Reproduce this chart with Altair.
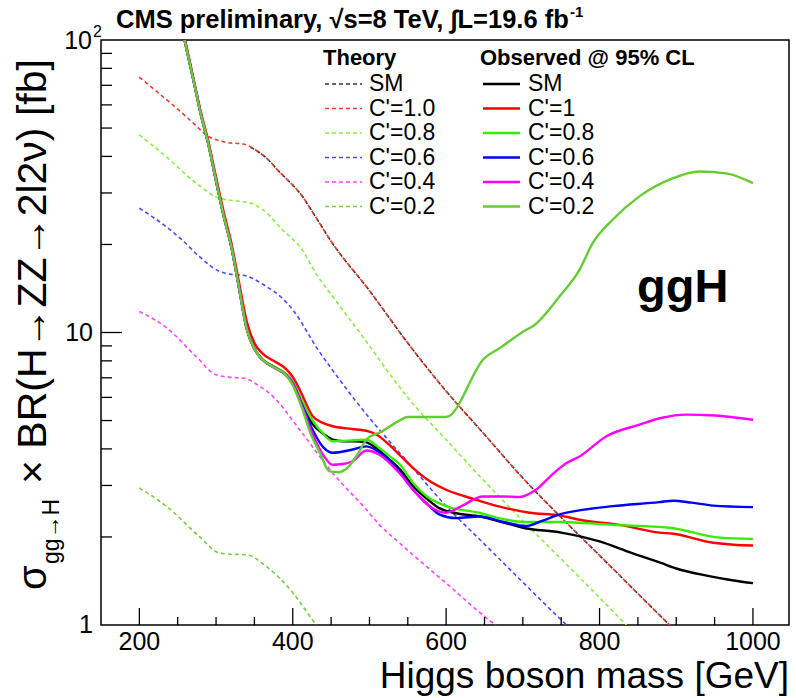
import altair as alt
import pandas as pd

FONT = "Liberation Sans"
LEFT, TOP = 101, 40
W, H = 688, 585

# ---------------- Theory curves (dashed) ----------------
th_sm_mass = [345, 355, 370, 380, 395, 410, 430, 450, 500, 550, 600, 650, 700, 750, 800, 850, 900]
th_sm_xs = [43.0, 41.5, 38.5, 36.0, 32.9, 29.8, 24.8, 20.5, 13.9, 9.2, 6.3, 4.48, 3.18, 2.33, 1.73, 1.28, 0.95]

th_c10_mass = [200, 225, 250, 270, 290, 305, 315, 335, 355, 370, 380, 395, 410, 430, 450, 500, 550, 600, 650, 700, 750, 800, 850, 900]
th_c10_xs = [74.6, 65.9, 58.0, 52.1, 46.8, 45.2, 44.6, 44.1, 41.5, 38.5, 36.0, 32.9, 29.8, 24.8, 20.5, 13.9, 9.2, 6.3, 4.48, 3.18, 2.33, 1.73, 1.28, 0.95]

th_c08_mass = [200, 235, 274, 304, 335, 345, 361, 387, 396, 409, 433, 450, 500, 530, 552, 600, 650, 700, 750, 800, 850]
th_c08_xs = [47.4, 39.9, 32.4, 28.8, 28.0, 27.7, 26.3, 22.4, 21.3, 19.7, 15.5, 13.5, 9.0, 7.0, 5.9, 4.3, 3.1, 2.27, 1.68, 1.24, 0.91]

th_c06_mass = [200, 235, 255, 278, 304, 320, 335, 365, 385, 400, 433, 461, 500, 513, 550, 600, 650, 700, 750, 800]
th_c06_xs = [26.6, 23.0, 20.8, 18.2, 16.2, 15.8, 15.7, 14.4, 13.2, 11.96, 8.73, 6.9, 5.1, 4.65, 3.6, 2.55, 1.89, 1.40, 1.04, 0.78]

th_c04_mass = [200, 235, 274, 300, 320, 335, 355, 374, 409, 452, 496, 513, 539, 550, 600, 650, 700]
th_c04_xs = [11.8, 10.4, 8.28, 7.17, 7.02, 6.99, 6.6, 6.05, 4.65, 3.31, 2.48, 2.2, 1.91, 1.8, 1.39, 1.07, 0.85]

th_c02_mass = [200, 235, 278, 304, 320, 339, 365, 400, 428, 450]
th_c02_xs = [2.94, 2.55, 2.01, 1.765, 1.745, 1.74, 1.59, 1.29, 1.02, 0.85]

# ---------------- Observed limits (solid) ----------------
obs_sm_mass = [250, 260, 270, 280, 290, 300, 310, 320, 330, 340, 350, 360, 375, 390, 400, 410, 425, 440, 452, 465, 480, 495, 510, 525, 540, 557, 575, 591, 610, 645, 675, 700, 750, 800, 835, 880, 900, 943, 975, 1000]
obs_sm_xs = [128, 97, 74, 56, 44, 33, 25, 19.6, 14.2, 10.3, 8.8, 8.1, 7.65, 7.25, 6.8, 5.9, 4.9, 4.5, 4.3, 4.25, 4.25, 4.22, 4.0, 3.7, 3.4, 2.98, 2.7, 2.51, 2.42, 2.35, 2.24, 2.15, 2.07, 1.93, 1.79, 1.63, 1.56, 1.47, 1.42, 1.39]

obs_c10_mass = [250, 260, 270, 280, 290, 300, 310, 320, 330, 340, 350, 360, 375, 390, 400, 410, 426, 440, 452, 470, 487, 500, 509, 525, 539, 557, 575, 600, 625, 645, 675, 709, 748, 774, 826, 878, 896, 948, 975, 1000]
obs_c10_xs = [130, 99, 75, 57, 45, 34, 25.8, 20.2, 14.8, 10.9, 9.2, 8.5, 8.0, 7.55, 7.05, 6.3, 5.17, 4.9, 4.78, 4.7, 4.65, 4.58, 4.48, 4.15, 3.82, 3.44, 3.15, 2.90, 2.75, 2.65, 2.52, 2.42, 2.37, 2.29, 2.2, 2.07, 2.05, 1.91, 1.88, 1.87]

obs_c08_mass = [250, 260, 270, 280, 290, 300, 310, 320, 330, 340, 350, 360, 375, 390, 400, 410, 425, 440, 452, 480, 496, 513, 525, 540, 557, 575, 600, 643, 675, 700, 748, 817, 891, 957, 1000]
obs_c08_xs = [128, 97, 74, 56, 44, 33, 25, 19.6, 14.2, 10.3, 8.8, 8.1, 7.65, 7.25, 6.8, 6.0, 5.05, 4.5, 4.25, 4.28, 4.3, 4.03, 3.8, 3.53, 3.06, 2.75, 2.55, 2.42, 2.3, 2.25, 2.25, 2.2, 2.15, 1.99, 1.97]

obs_c06_mass = [250, 260, 270, 280, 290, 300, 310, 320, 330, 340, 350, 360, 375, 390, 400, 410, 425, 440, 452, 478, 496, 517, 539, 557, 575, 591, 613, 643, 675, 704, 725, 748, 780, 817, 878, 896, 920, 948, 1000]
obs_c06_xs = [128, 97, 74, 56, 44, 33, 25, 19.6, 14.2, 10.3, 8.8, 8.1, 7.6, 7.2, 6.7, 5.85, 4.7, 4.05, 3.88, 3.98, 4.08, 3.82, 3.35, 2.9, 2.6, 2.39, 2.32, 2.35, 2.25, 2.18, 2.27, 2.39, 2.48, 2.55, 2.63, 2.66, 2.62, 2.56, 2.53]

obs_c04_mass = [250, 260, 270, 280, 290, 300, 310, 320, 330, 340, 350, 360, 375, 390, 400, 410, 425, 440, 452, 465, 478, 496, 513, 539, 557, 578, 600, 620, 648, 675, 696, 717, 740, 757, 774, 809, 852, 880, 913, 950, 1000]
obs_c04_xs = [128, 97, 74, 56, 44, 33, 25, 19.6, 14.2, 10.3, 8.8, 8.1, 7.6, 7.2, 6.7, 5.8, 4.55, 3.8, 3.53, 3.55, 3.63, 3.95, 3.82, 3.31, 2.9, 2.55, 2.42, 2.55, 2.75, 2.75, 2.74, 2.9, 3.3, 3.58, 3.77, 4.42, 4.84, 5.1, 5.24, 5.2, 5.03]

obs_c02_mass = [250, 260, 270, 280, 290, 300, 310, 320, 330, 340, 350, 360, 375, 390, 400, 410, 425, 435, 448, 460, 470, 485, 496, 517, 539, 550, 600, 650, 670, 704, 713, 748, 774, 791, 817, 852, 896, 930, 965, 1000]
obs_c02_xs = [128, 97, 74, 56, 44, 33, 25, 19.6, 14.2, 10.3, 8.8, 8.1, 7.6, 7.2, 6.6, 5.7, 4.4, 3.9, 3.35, 3.33, 3.42, 3.85, 4.3, 4.6, 5.0, 5.14, 5.14, 8.18, 8.85, 10.2, 10.5, 13.3, 16.4, 20.2, 24.3, 29.2, 33.7, 35.5, 35.0, 32.4]

# ---------------- Labels / colours ----------------
theory_labels = ["SM", "C'=1.0", "C'=0.8", "C'=0.6", "C'=0.4", "C'=0.2"]
obs_labels = ["SM", "C'=1", "C'=0.8", "C'=0.6", "C'=0.4", "C'=0.2"]
theory_colors = ["#333333", "#ee3b2b", "#88ee44", "#4a4aff", "#ff44ff", "#77cc44"]
obs_colors = ["#000000", "#ff0000", "#33ee00", "#0000ff", "#ff00ff", "#66cc33"]

x_major = [200, 400, 600, 800, 1000]
x_major_labels = ["200", "400", "600", "800", "1000"]
x_minor = [250, 300, 350, 450, 500, 550, 650, 700, 750, 850, 900, 950]
y_major = [10]
y_minor = [2, 3, 4, 5, 6, 7, 8, 9, 20, 30, 40, 50, 60, 70, 80, 90]
y_label_values = [1, 10]
y_label_texts = ["1", "10"]

theory_sets = [(th_sm_mass, th_sm_xs), (th_c10_mass, th_c10_xs), (th_c08_mass, th_c08_xs),
               (th_c06_mass, th_c06_xs), (th_c04_mass, th_c04_xs), (th_c02_mass, th_c02_xs)]
obs_sets = [(obs_sm_mass, obs_sm_xs), (obs_c10_mass, obs_c10_xs), (obs_c08_mass, obs_c08_xs),
            (obs_c06_mass, obs_c06_xs), (obs_c04_mass, obs_c04_xs), (obs_c02_mass, obs_c02_xs)]

theory_keys = ["Theory " + l for l in theory_labels]
obs_keys = ["Observed " + l for l in obs_labels]

theory_df = pd.concat([pd.DataFrame({"series": k, "mass": m, "xs": v})
                       for k, (m, v) in zip(theory_keys, theory_sets)], ignore_index=True)
obs_df = pd.concat([pd.DataFrame({"series": k, "mass": m, "xs": v})
                    for k, (m, v) in zip(obs_keys, obs_sets)], ignore_index=True)

xscale = alt.Scale(domain=[150, 1047], nice=False, zero=False)
yscale = alt.Scale(type="log", domain=[1, 100], nice=False)
cscale = alt.Scale(domain=theory_keys + obs_keys, range=theory_colors + obs_colors)

theory_lines = alt.Chart(theory_df).mark_line(
    strokeWidth=1.6, strokeDash=[4, 3], clip=True, interpolate="monotone"
).encode(
    x=alt.X("mass:Q", scale=xscale, axis=None),
    y=alt.Y("xs:Q", scale=yscale, axis=None),
    color=alt.Color("series:N", scale=cscale, legend=None),
)

obs_lines = alt.Chart(obs_df).mark_line(
    strokeWidth=2.4, clip=True, interpolate="monotone"
).encode(
    x=alt.X("mass:Q", scale=xscale, axis=None),
    y=alt.Y("xs:Q", scale=yscale, axis=None),
    color=alt.Color("series:N", scale=cscale, legend=None),
)

# inward ticks
xt_major = alt.Chart(pd.DataFrame({"mass": x_major})).mark_rule(color="black", strokeWidth=1.3).encode(
    x=alt.X("mass:Q", scale=xscale, axis=None), y=alt.value(H), y2=alt.value(H - 17))
xt_minor = alt.Chart(pd.DataFrame({"mass": x_minor})).mark_rule(color="black", strokeWidth=1.3).encode(
    x=alt.X("mass:Q", scale=xscale, axis=None), y=alt.value(H), y2=alt.value(H - 8))
yt_major = alt.Chart(pd.DataFrame({"xs": y_major})).mark_rule(color="black", strokeWidth=1.3).encode(
    y=alt.Y("xs:Q", scale=yscale, axis=None), x=alt.value(0), x2=alt.value(21))
yt_minor = alt.Chart(pd.DataFrame({"xs": y_minor})).mark_rule(color="black", strokeWidth=1.3).encode(
    y=alt.Y("xs:Q", scale=yscale, axis=None), x=alt.value(0), x2=alt.value(11))

# tick labels
xlab = alt.Chart(pd.DataFrame({"mass": x_major, "lab": x_major_labels})).mark_text(
    font=FONT, fontSize=25, baseline="middle", align="center", color="black"
).encode(x=alt.X("mass:Q", scale=xscale, axis=None), y=alt.value(H + 17), text="lab:N")
ylab = alt.Chart(pd.DataFrame({"xs": y_label_values, "lab": y_label_texts})).mark_text(
    font=FONT, fontSize=25, baseline="middle", align="right", color="black"
).encode(y=alt.Y("xs:Q", scale=yscale, axis=None), x=alt.value(-8), text="lab:N")

anchor = pd.DataFrame({"k": [0]})


def txt(s, x, y, size, bold=False, align="left", baseline="alphabetic", angle=0):
    return alt.Chart(anchor).mark_text(
        text=s, font=FONT, fontSize=size, fontWeight="bold" if bold else "normal",
        align=align, baseline=baseline, angle=angle, color="black"
    ).encode(x=alt.value(x - LEFT), y=alt.value(y - TOP))


def hline(x1, x2, y, color, width, dash=None):
    kw = dict(color=color, strokeWidth=width)
    if dash:
        kw["strokeDash"] = dash
    return alt.Chart(anchor).mark_rule(**kw).encode(
        x=alt.value(x1 - LEFT), x2=alt.value(x2 - LEFT), y=alt.value(y - TOP))


layers = [theory_lines, obs_lines, xt_major, xt_minor, yt_major, yt_minor, xlab, ylab]

# "10^2" label at the top of the y axis
layers.append(txt("10", 92, 49, 25, align="right"))
layers.append(txt("2", 93, 37, 16))

# legend (manual, two columns)
layers.append(txt("Theory", 323, 65, 22, bold=True))
layers.append(txt("Observed @ 95% CL", 480, 65, 22, bold=True))
for i in range(6):
    yy = 84 + 24.5 * i
    layers.append(hline(325, 362, yy, theory_colors[i], 1.5, [4, 3]))
    layers.append(txt(theory_labels[i], 369, yy, 23, baseline="middle"))
    layers.append(hline(483, 520, yy, obs_colors[i], 2.5))
    layers.append(txt(obs_labels[i], 528, yy, 23, baseline="middle"))

# texts
layers.append(txt("CMS preliminary, \u221as=8 TeV, \u222bL=19.6 fb", 116, 28, 25.5, bold=True))
layers.append(txt("-1", 570, 17, 15, bold=True))
layers.append(txt("ggH", 637, 302, 47, bold=True))
layers.append(txt("Higgs boson mass [GeV]", 789, 688, 37, align="right"))
layers.append(txt("\u03c3", 46, 590, 40, angle=270))
layers.append(txt("gg\u2192H", 59, 564, 23, angle=270))
layers.append(txt("\u00d7 BR(H\u2192ZZ\u21922l2\u03bd) [fb]", 46, 484, 41, angle=270))

chart = alt.layer(*layers).properties(
    width=W, height=H,
    padding={"left": LEFT, "top": TOP, "right": 796 - LEFT - W, "bottom": 698 - TOP - H},
    autosize=alt.AutoSizeParams(type="none"),
    background="white",
).configure_view(stroke="black", strokeWidth=1.5)

chart.save("out.html", embed_options={"renderer": "svg", "actions": False})
